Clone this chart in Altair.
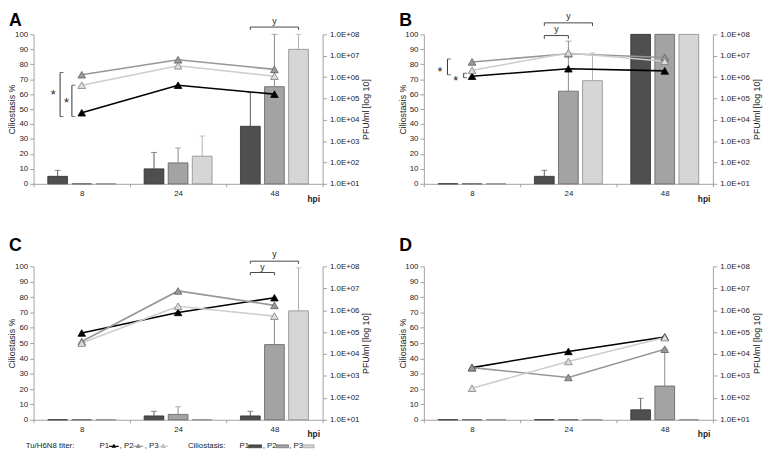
import altair as alt
import pandas as pd

FONT = "Liberation Sans"

hpi = ["8", "24", "48"]
series = ["P1", "P2", "P3"]

# Ciliostasis % (bars), upper end of error bars, and virus titer (log10 PFU/ml) per panel
cilio_A = {"P1": [5, 10, 38.5], "P2": [0, 14, 65], "P3": [0, 18.5, 90]}
cilio_err_A = {"P1": [9, 21, 61], "P2": [None, 24, 100], "P3": [None, 32, 100]}
titer_A = {"P1": [4.33, 5.62, 5.20], "P2": [6.11, 6.81, 6.36], "P3": [5.62, 6.53, 6.04]}

cilio_B = {"P1": [0, 5, 100], "P2": [0, 62, 100], "P3": [0, 69, 100]}
cilio_err_B = {"P1": [None, 9, None], "P2": [None, 95.5, None], "P3": [None, 87.5, None]}
titer_B = {"P1": [6.04, 6.39, 6.29], "P2": [6.71, 7.09, 6.92], "P3": [6.32, 7.13, 6.74]}

cilio_C = {"P1": [0, 2.5, 2.5], "P2": [0, 3.5, 49], "P3": [0, 0, 71]}
cilio_err_C = {"P1": [None, 5.5, 5.5], "P2": [None, 8.5, 66], "P3": [None, None, 99]}
titer_C = {"P1": [4.96, 5.90, 6.57], "P2": [4.57, 6.88, 6.22], "P3": [4.50, 6.18, 5.73]}

cilio_D = {"P1": [0, 0, 6.5], "P2": [0, 0, 22], "P3": [0, 0, 0]}
cilio_err_D = {"P1": [None, None, 14], "P2": [None, None, 46], "P3": [None, None, None]}
titer_D = {"P1": [3.38, 4.12, 4.78], "P2": [3.38, 2.93, 4.22], "P3": [2.44, 3.66, 4.75]}

# significance brackets "y": (hpi, from, to, line level, leg end, text level)
sig_A = [("48", "P1", "P3", 104.9, 103.0, 109.0)]
sig_B = [("24", "P1", "P2", 99.2, 97.0, 103.4), ("24", "P1", "P3", 107.7, 105.6, 112.0)]
sig_C = [("48", "P1", "P2", 96.0, 94.2, 99.8), ("48", "P1", "P3", 103.4, 101.7, 108.1)]
sig_D = []

# star brackets at 8 hpi: (top, bottom, star level)
star_A = [(74.5, 45.0, 61.5), (66.0, 45.0, 56.0)]
star_B = [(83.5, 73.0, 76.7), (74.0, 71.0, 71.0)]

W = 294
H_TOP, H_BOTTOM = 152, 156

bar_fill = ["#4f4f4f", "#a3a3a3", "#d6d6d6"]
bar_stroke = ["#2e2e2e", "#5e5e5e", "#8a8a8a"]
err_color = ["#5a5a5a", "#8a8a8a", "#b0b0b0"]
line_color = ["#000000", "#979797", "#cdcdcd"]
tri_fill = ["#000000", "#9a9a9a", "#dcdcdc"]
tri_stroke = ["#000000", "#5c5c5c", "#7d7d7d"]
ink = "#222222"


def make_panel(letter, cil, err, tit, sig, stars, star_offsets, H, letter_y, legend=False):
    rows = []
    for s in series:
        for i, h in enumerate(hpi):
            rows.append({"hpi": h, "series": s, "cilio": cil[s][i],
                         "err": err[s][i], "titer": tit[s][i]})
    df = pd.DataFrame(rows)
    df_err = df.dropna(subset=["err"])

    x_axis = alt.Axis(title=None, labelAngle=0, tickBand="extent", tickSize=3,
                      labelPadding=3)
    x = alt.X("hpi:N", sort=hpi,
              scale=alt.Scale(domain=hpi, paddingInner=0, paddingOuter=0), axis=x_axis)
    xo = alt.XOffset("series:N", sort=series,
                     scale=alt.Scale(domain=series, paddingInner=0.18, paddingOuter=0.59))
    yl_axis = alt.Axis(title="Ciliostasis %", values=list(range(0, 101, 10)),
                       tickSize=4, labelPadding=2, titleX=-17)
    yl_scale = alt.Scale(domain=[0, 100], nice=False)

    def yl(field):
        return alt.Y(f"{field}:Q", scale=yl_scale, axis=yl_axis)

    bars = alt.Chart(df).mark_bar(strokeWidth=0.8).encode(
        x=x, xOffset=xo, y=yl("cilio"),
        fill=alt.Fill("series:N", scale=alt.Scale(domain=series, range=bar_fill), legend=None),
        stroke=alt.Stroke("series:N", scale=alt.Scale(domain=series, range=bar_stroke), legend=None),
    )
    err_col = alt.Color("series:N", scale=alt.Scale(domain=series, range=err_color), legend=None)
    err_rules = alt.Chart(df_err).mark_rule(strokeWidth=1).encode(
        x=x, xOffset=xo, y=yl("cilio"), y2=alt.Y2("err:Q"), color=err_col)
    err_caps = alt.Chart(df_err).mark_tick(orient="horizontal", size=6, thickness=1).encode(
        x=x, xOffset=xo, y=yl("err"), color=err_col)

    left_layers = [bars, err_rules, err_caps]

    for j, (h, a, b, lv, leg, tv) in enumerate(sig):
        bdf = pd.DataFrame({"hpi": [h] * 4, "series": [a, a, b, b],
                            "v": [leg, lv, lv, leg], "k": [0, 1, 2, 3]})
        left_layers.append(alt.Chart(bdf).mark_line(color="#444444", strokeWidth=1).encode(
            x=x, xOffset=xo, y=yl("v"), order="k:Q"))
        tdf = pd.DataFrame({"hpi": [h], "series": [a], "v": [tv], "t": ["y"]})
        dx = 12.25 * (series.index(b) - series.index(a))
        left_layers.append(alt.Chart(tdf).mark_text(
            dx=dx, fontSize=9, font=FONT, color=ink, baseline="middle").encode(
            x=x, xOffset=xo, y=yl("v"), text="t:N"))

    for (top, bot, sy), (boff, soff) in zip(stars, star_offsets):
        sdf = pd.DataFrame({"hpi": ["8"], "top": [top], "bot": [bot], "star": [sy], "t": ["*"]})
        left_layers.append(alt.Chart(sdf).mark_rule(color="#333333", strokeWidth=1, xOffset=boff).encode(
            x=x, y=yl("top"), y2=alt.Y2("bot:Q")))
        for fld in ["top", "bot"]:
            left_layers.append(alt.Chart(sdf).mark_tick(
                orient="horizontal", size=3.5, thickness=1, color="#333333", xOffset=boff + 1.75).encode(
                x=x, y=yl(fld)))
        left_layers.append(alt.Chart(sdf).mark_text(
            fontSize=13, font=FONT, color=ink, baseline="middle", dy=3, xOffset=soff).encode(
            x=x, y=yl("star"), text="t:N"))

    left_layers.append(alt.Chart(pd.DataFrame({"t": [letter]})).mark_text(
        fontSize=18, fontWeight="bold", font=FONT, align="left", baseline="top", color="#000000").encode(
        x=alt.value(-25), y=alt.value(letter_y), text="t:N"))
    left_layers.append(alt.Chart(pd.DataFrame({"t": ["hpi"]})).mark_text(
        fontSize=8.5, fontWeight="bold", font=FONT, baseline="middle", color=ink).encode(
        x=alt.value(W - 9), y=alt.value(H + 15), text="t:N"))

    if legend:
        y0 = H + 27
        for txt, px in [("Tu/H6N8 titer:", -8), ("P1", 67), (", P2", 87.5), (", P3", 113),
                        ("Ciliostasis:", 157), ("P1", 209.5), (", P2", 233), (", P3", 260)]:
            left_layers.append(alt.Chart(pd.DataFrame({"t": [txt]})).mark_text(
                align="left", baseline="middle", fontSize=8, font=FONT, color=ink).encode(
                x=alt.value(px), y=alt.value(y0), text="t:N"))
        for i, cx in enumerate([81.7, 106.5, 132]):
            g = pd.DataFrame({"s": [series[i]]})
            left_layers.append(alt.Chart(g).mark_rule(color=line_color[i], strokeWidth=1.2).encode(
                x=alt.value(cx - 5), x2=alt.value(cx + 5), y=alt.value(y0)))
            left_layers.append(alt.Chart(g).mark_point(
                shape="triangle-up", filled=True, size=16, color=tri_fill[i], fill=tri_fill[i],
                stroke=tri_stroke[i], strokeWidth=0.5, opacity=1).encode(
                x=alt.value(cx), y=alt.value(y0 - 0.5)))
        for i, (a, b) in enumerate([(218.7, 232), (247, 259.3), (273.7, 285.3)]):
            g = pd.DataFrame({"s": [series[i]]})
            left_layers.append(alt.Chart(g).mark_rect(
                fill=bar_fill[i], stroke=bar_stroke[i], strokeWidth=0.6).encode(
                x=alt.value(a), x2=alt.value(b), y=alt.value(y0 - 1.5), y2=alt.value(y0 + 1.5)))

    left = alt.layer(*left_layers)

    yr = alt.Y("titer:Q", scale=alt.Scale(domain=[1, 8], nice=False),
               axis=alt.Axis(orient="right", values=list(range(1, 9)),
                             labelExpr="'1.0E+0' + datum.value", tickSize=4, labelPadding=3,
                             title="PFU/ml [log 10]", titleAngle=270, titleBaseline="top",
                             titlePadding=3))
    lines = alt.Chart(df).mark_line(strokeWidth=1.6).encode(
        x=x, y=yr,
        stroke=alt.Stroke("series:N", scale=alt.Scale(domain=series, range=line_color), legend=None))
    points = alt.Chart(df).mark_point(shape="triangle-up", filled=True, size=60,
                                      strokeWidth=0.8, opacity=1).encode(
        x=x, y=yr,
        fill=alt.Fill("series:N", scale=alt.Scale(domain=series, range=tri_fill), legend=None),
        stroke=alt.Stroke("series:N", scale=alt.Scale(domain=series, range=tri_stroke), legend=None))
    right = alt.layer(lines, points).resolve_scale(stroke="independent")

    return alt.layer(left, right).resolve_scale(
        y="independent", fill="independent", stroke="independent", color="independent"
    ).properties(width=W, height=H)


pA = make_panel("A", cilio_A, cilio_err_A, titer_A, sig_A, star_A,
                [(-22, -29), (-10, -15.5)], H_TOP, -23)
pB = make_panel("B", cilio_B, cilio_err_B, titer_B, sig_B, star_B,
                [(-25, -32.5), (-8.5, -16.5)], H_TOP, -23)
pC = make_panel("C", cilio_C, cilio_err_C, titer_C, sig_C, [], [], H_BOTTOM, -30, legend=True)
pD = make_panel("D", cilio_D, cilio_err_D, titer_D, sig_D, [], [], H_BOTTOM, -30)

chart = alt.concat(
    pA, pB, pC, pD, columns=2,
    spacing=alt.RowColnumber(row=84, column=103), bounds="flush",
).properties(
    padding={"left": 0, "top": 0, "right": 4, "bottom": 0}
).configure_axis(
    labelFont=FONT, titleFont=FONT, labelFontSize=8, titleFontSize=9,
    labelColor=ink, titleColor=ink, titleFontWeight="normal",
    domainColor="#a0a0a0", tickColor="#a0a0a0", grid=False,
).configure_view(stroke=None)

chart.save("out.html", embed_options={"renderer": "svg", "actions": False})
